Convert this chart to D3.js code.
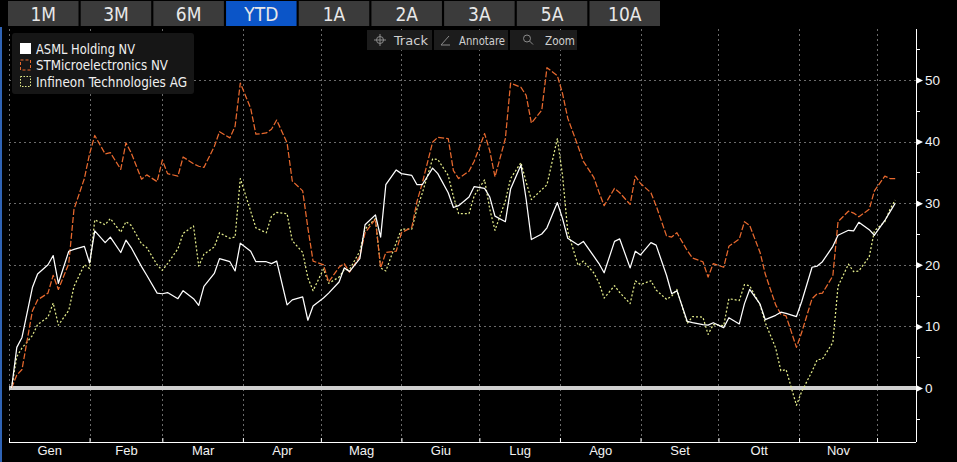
<!DOCTYPE html>
<html>
<head>
<meta charset="utf-8">
<script src="https://cdn.jsdelivr.net/npm/d3@7"></script>
<style>
html, body { margin: 0; padding: 0; background: #000; overflow: hidden; }
svg { display: block; font-family: "Liberation Sans Narrow", "DejaVu Sans Condensed", "Arial Narrow", sans-serif; }
</style>
</head>
<body>
<svg id="chart"></svg>
<script>
// periodi e strumenti
const ranges = ['1M', '3M', '6M', 'YTD', '1A', '2A', '3A', '5A', '10A'];
const activeRange = 'YTD';
const tools = ['Track', 'Annotare', 'Zoom'];
const monthLabels = ['Gen', 'Feb', 'Mar', 'Apr', 'Mag', 'Giu', 'Lug', 'Ago', 'Set', 'Ott', 'Nov'];
const yTicks = [0, 10, 20, 30, 40, 50];
const yMinor = [-5, 5, 15, 25, 35, 45, 55];
const names = ['ASML Holding NV', 'STMicroelectronics NV', 'Infineon Technologies AG'];

// variazione % YTD, un valore ogni due sedute da inizio anno
const asml = [
  0, 6.6, 8.2, 16.3, 18.5, 20, 21.5, 17, 22.2, 22.5,
  23, 20.3, 25.5, 23.6, 24.5, 22, 24, 22.8, 19.7, 18.3,
  15.4, 15.3, 15.5, 14.5, 15.8, 14.5, 13.4, 16.5, 18.6, 21,
  20.5, 19, 23.5, 22.2, 20.5, 20.5, 20.2, 20.6, 13.5, 14.3,
  14.8, 11, 13.3, 14.6, 15.4, 17.2, 19.5, 18.9, 21, 26.5,
  28.1, 24.5, 33, 35.4, 34.8, 34.5, 33, 33, 35.7, 34.8,
  31.7, 29.3, 29.6, 31, 32.7, 32.4, 31, 27.9, 27, 32.3,
  36.2, 30.6, 24.1, 25, 26, 30.1, 27.5, 24.3, 23.2, 23.8,
  21.4, 20.2, 18.7, 23.8, 24.2, 19.5, 22.2, 21.6, 23.6, 23.2,
  18.3, 15.3, 15.8, 10.8, 10.6, 10.3, 10.2, 10.6, 9.8, 11.4,
  10.4, 13.7, 16, 13.6, 11.1, 11.8, 12.3, 12.1, 11.6, 14,
  19.6, 19.8, 20.5, 23, 24.8, 25.6, 25.5, 26.9, 25.7, 24.8,
  27.2, 28.6, 30
];
const stm = [
  0, 2.1, 3, 12.5, 14.3, 15.4, 18.3, 16, 20.2, 29,
  34, 38, 41, 38, 38.2, 35.5, 39.8, 38.2, 33.9, 34.6,
  33.5, 37, 34.8, 34.4, 37.5, 36.4, 36, 35.8, 39.2, 41.6,
  40.6, 42.5, 49.5, 45.4, 41.2, 41.4, 42, 43.5, 39.8, 33.6,
  32, 26, 20.6, 20, 17.2, 19.6, 20.2, 18.8, 21.4, 25.2,
  27.4, 19.5, 22, 22.2, 25.2, 26.1, 30.3, 33.2, 39.9, 40.7,
  40.5, 35.3, 34, 35.2, 36.8, 41.3, 38.5, 34.3, 40.5, 49.5,
  48.8, 47.5, 43, 45.1, 52, 50.7, 47.8, 43.8, 39.2, 36.8,
  34.2, 31.8, 29.6, 32.4, 31.7, 29.8, 34.4, 33.2, 31.7, 29.6,
  24.7, 24.5, 25.2, 22.3, 21.1, 20.5, 18, 20.2, 19.6, 23,
  24.2, 27, 26.4, 22, 18.5, 13.5, 12, 11.7, 6.6, 9,
  14.5, 15.3, 15.4, 18.2, 27, 28.7, 28.4, 27.8, 29, 32,
  34.4, 34, 34
];
const ifx = [
  0, 5.1, 6.5, 8.5, 10.3, 11.5, 13.8, 10.2, 12.6, 16.5,
  20, 19.4, 27.3, 26.5, 27.5, 25.3, 27, 26.4, 23.4, 22.8,
  20, 19.1, 20.2, 22.6, 25.1, 26.3, 19.8, 21.7, 22.9, 25.2,
  24.3, 24.5, 34, 28.7, 26, 25.2, 27.9, 28.5, 28.3, 23.9,
  22, 17.9, 15.8, 19.3, 17, 18, 19.2, 19.2, 22.2, 25.8,
  27.5, 19.5, 19, 23.6, 25.8, 25.8, 29.1, 31.6, 37.2, 37.1,
  34.5, 31.1, 28.3, 28.3, 31.2, 33.8, 29, 25.6, 30.4, 34,
  36.6, 33.4, 30.6, 32.2, 33, 40.5, 34.5, 25.4, 19.9, 20.6,
  18.7, 17.1, 14.6, 16.6, 15.5, 13.7, 17.4, 16.8, 17.4, 15.9,
  14.4, 14.9, 16, 10.5, 11.6, 11.5, 8.7, 10.3, 10.1, 14.5,
  14.2, 16.8, 16.6, 13.5, 10.6, 6.5, 2.8, 3, -2.8, -0.6,
  2.7, 4.6, 4.7, 7.4, 16.5, 20.1, 18.9, 19, 21.3, 25.5,
  27, 29, 30.5
];

const width = 957, height = 462;
const colors = ['#ffffff', '#e8692e', '#e2ea8a'];
const dashes = [null, '6,2', '2,2'];

const svg = d3.select('#chart').attr('width', width).attr('height', height);
svg.append('rect').attr('width', width).attr('height', height).attr('fill', '#000');

// sedute (lun-ven), una ogni due
const days = d3.timeDay.range(new Date(2023, 0, 2), new Date(2023, 11, 9))
  .filter(d => d.getDay() !== 0 && d.getDay() !== 6)
  .filter((d, i) => i % 2 === 0);

const x = d3.scaleTime()
  .domain([new Date(2023, 0, 1), new Date(2023, 11, 16)])
  .range([9, 916]);
const y = d3.scaleLinear().domain([0, 50]).range([388, 80]);
const plotTop = 29, plotBottom = 442;

const months = d3.timeMonth.range(new Date(2023, 0, 1), new Date(2023, 11, 2));

// griglia
const grid = svg.append('g').attr('stroke', '#6a6a6a').attr('stroke-width', 1).attr('stroke-dasharray', '2,3');
grid.selectAll('.v').data(months).enter().append('line')
  .attr('x1', d => Math.round(x(d)) + 0.5).attr('x2', d => Math.round(x(d)) + 0.5)
  .attr('y1', plotTop).attr('y2', plotBottom);
grid.selectAll('.h').data(yTicks.filter(d => d !== 0)).enter().append('line')
  .attr('x1', 9).attr('x2', 916)
  .attr('y1', d => Math.round(y(d)) + 0.5).attr('y2', d => Math.round(y(d)) + 0.5);

// linea dello zero
svg.append('line').attr('x1', 9).attr('x2', 916).attr('y1', y(0)).attr('y2', y(0))
  .attr('stroke', '#cfcfcf').attr('stroke-width', 4);

// serie
const series = [asml, stm, ifx];
const line = d3.line().x((d, i) => x(days[i])).y(d => y(d));
svg.append('g').selectAll('path').data(series.map((s, k) => ({ s, k })).reverse()).enter().append('path')
  .attr('d', d => line(d.s.slice(0, days.length)))
  .attr('fill', 'none')
  .attr('stroke', d => colors[d.k])
  .attr('stroke-width', 1.25)
  .attr('stroke-dasharray', d => dashes[d.k])
  .attr('stroke-linejoin', 'round');

// asse x
const xAxis = svg.append('g').attr('transform', `translate(0,${plotBottom})`)
  .call(d3.axisBottom(x).tickValues(months).tickSizeInner(-4).tickSizeOuter(0).tickFormat(''));
xAxis.select('.domain').attr('stroke', '#fff').attr('d', `M9,0.5H916`);
xAxis.selectAll('.tick line').attr('stroke', '#fff');

const mids = months.slice(0, monthLabels.length).map((m, i) => new Date((+m + +months[i + 1]) / 2));
const xLab = svg.append('g').attr('transform', `translate(0,${plotBottom})`)
  .call(d3.axisBottom(x).tickValues(mids).tickSize(0).tickPadding(4)
    .tickFormat((d, i) => monthLabels[i]));
xLab.select('.domain').remove();
xLab.selectAll('text').attr('fill', '#f2f2f2').attr('font-size', 13).attr('font-family', null);

// asse y
const yAxis = svg.append('g').attr('transform', 'translate(916,0)')
  .call(d3.axisRight(y).tickValues(yTicks).tickSize(0).tickPadding(9).tickFormat(d3.format('d')));
yAxis.select('.domain').attr('stroke', '#fff').attr('d', `M0.5,${plotTop}V${plotBottom}`);
yAxis.selectAll('text').attr('fill', '#f2f2f2').attr('font-size', 13.5).attr('font-family', null);
yAxis.selectAll('.tick').append('path').attr('d', 'M1,-3L7,0L1,3Z').attr('fill', '#fff');
svg.append('g').selectAll('line').data(yMinor).enter().append('line')
  .attr('x1', 916).attr('x2', 920)
  .attr('y1', d => Math.round(y(d)) + 0.5).attr('y2', d => Math.round(y(d)) + 0.5)
  .attr('stroke', '#fff');

// bordo sinistro
svg.append('rect').attr('x', 0).attr('y', 27).attr('width', 2).attr('height', height - 27).attr('fill', '#2f63b5');

// pulsanti periodo
const btn = d3.scaleBand().domain(ranges).range([8, 660]).paddingInner(0.03);
const bar = svg.append('g');
bar.selectAll('rect').data(ranges).enter().append('rect')
  .attr('x', d => btn(d)).attr('y', 1).attr('width', btn.bandwidth()).attr('height', 25)
  .attr('fill', d => d === activeRange ? '#0b55c8' : '#3b3b3b');
bar.selectAll('text').data(ranges).enter().append('text')
  .attr('x', d => btn(d) + btn.bandwidth() / 2).attr('y', 21)
  .attr('text-anchor', 'middle').attr('fill', '#e8e8e8').attr('font-size', 19)
  .text(d => d);

// barra strumenti
const toolX = [367, 434, 510], toolW = [65, 74, 67], toolText = [394, 459, 545];
const tb = svg.append('g');
tb.selectAll('rect').data(tools).enter().append('rect')
  .attr('x', (d, i) => toolX[i]).attr('y', 30).attr('width', (d, i) => toolW[i]).attr('height', 20)
  .attr('fill', '#1c1c1c');
tb.selectAll('text').data(tools).enter().append('text')
  .attr('x', (d, i) => toolText[i]).attr('y', 44.5)
  .attr('fill', '#cfcfcf').attr('font-size', 12.5)
  .attr('textLength', (d, i) => [34, 46, 30][i]).attr('lengthAdjust', 'spacingAndGlyphs')
  .text(d => d);
const ic = tb.append('g').attr('stroke', '#8a8a8a').attr('fill', 'none').attr('stroke-width', 1);
ic.append('circle').attr('cx', 380).attr('cy', 40).attr('r', 3.5);
ic.append('path').attr('d', 'M374,40H386M380,34V46');
ic.append('path').attr('d', 'M441,45H450M441,45L449,36');
ic.append('circle').attr('cx', 527).attr('cy', 38.5).attr('r', 3.5);
ic.append('path').attr('d', 'M529.5,41L533,44.5');

// legenda
const lg = svg.append('g');
lg.append('rect').attr('x', 12).attr('y', 33).attr('width', 182).attr('height', 61).attr('rx', 3).attr('fill', '#161616');
const items = lg.selectAll('g').data(names).enter().append('g')
  .attr('transform', (d, i) => `translate(20,${43 + i * 16.5})`);
items.append('rect').attr('x', 0.5).attr('y', 0.5).attr('width', 10).attr('height', 10)
  .attr('fill', (d, i) => i === 0 ? colors[0] : 'none')
  .attr('stroke', (d, i) => colors[i])
  .attr('stroke-dasharray', (d, i) => i === 0 ? null : (i === 1 ? '3,2' : '1.5,1.5'));
items.append('text').attr('x', 16).attr('y', 10.5)
  .attr('fill', '#f0f0f0').attr('font-size', 13.5)
  .attr('textLength', (d, i) => [99, 132, 151][i]).attr('lengthAdjust', 'spacingAndGlyphs')
  .text(d => d);
</script>
</body>
</html>
